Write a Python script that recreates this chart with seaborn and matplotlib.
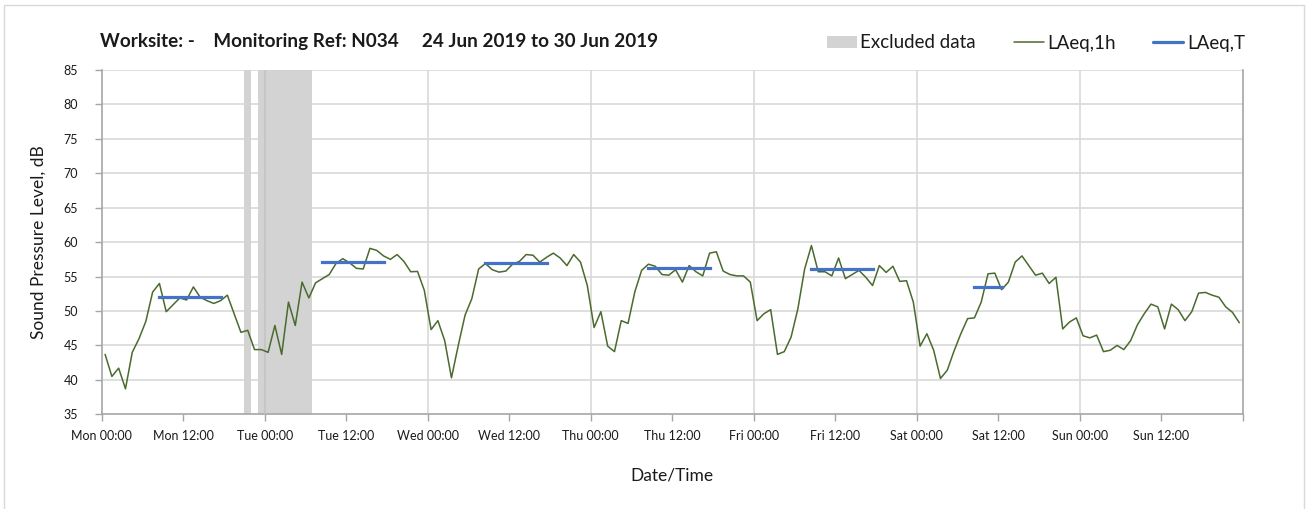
import numpy as np
import pandas as pd
import matplotlib
matplotlib.use("Agg")
import matplotlib.pyplot as plt
from matplotlib.patches import Patch
from matplotlib.lines import Line2D
import seaborn as sns

# ---------------- data ----------------
days = ["Mon", "Tue", "Wed", "Thu", "Fri", "Sat", "Sun"]

laeq_mon = [43.7, 40.5, 41.7, 38.7, 44.0, 46.0, 48.5, 52.75, 54.0, 49.9, 50.9, 51.9,
            51.6, 53.5, 52.0, 51.5, 51.1, 51.5, 52.3, 49.6, 46.9, 47.2, 44.4, 44.4]
laeq_tue = [44.0, 47.9, 43.7, 51.3, 47.9, 54.2, 51.9, 54.1, 54.7, 55.3, 56.9, 57.6,
            57.0, 56.2, 56.1, 59.1, 58.8, 58.0, 57.5, 58.2, 57.2, 55.7, 55.75, 53.0]
laeq_wed = [47.3, 48.6, 45.7, 40.3, 45.0, 49.4, 51.8, 56.1, 56.9, 56.0, 55.65, 55.8,
            56.8, 57.2, 58.2, 58.1, 57.1, 57.8, 58.4, 57.7, 56.6, 58.2, 57.1, 53.7]
laeq_thu = [47.6, 49.9, 44.9, 44.1, 48.6, 48.2, 52.8, 55.9, 56.8, 56.5, 55.3, 55.2,
            56.0, 54.2, 56.6, 55.7, 55.1, 58.4, 58.6, 55.8, 55.3, 55.1, 55.1, 54.2]
laeq_fri = [48.6, 49.6, 50.2, 43.7, 44.1, 46.2, 50.3, 56.1, 59.5, 55.7, 55.7, 55.1,
            57.7, 54.7, 55.3, 55.9, 54.9, 53.7, 56.6, 55.6, 56.5, 54.3, 54.4, 51.3]
laeq_sat = [44.9, 46.7, 44.3, 40.2, 41.4, 44.2, 46.7, 48.9, 49.0, 51.3, 55.4, 55.5,
            53.1, 54.2, 57.1, 58.0, 56.6, 55.2, 55.5, 54.0, 54.9, 47.4, 48.4, 49.0]
laeq_sun = [46.4, 46.1, 46.5, 44.1, 44.3, 45.0, 44.4, 45.7, 48.0, 49.6, 51.0, 50.6,
            47.4, 51.0, 50.2, 48.6, 49.9, 52.6, 52.7, 52.3, 52.0, 50.6, 49.8, 48.3]

# LAeq,T daytime periods: day index, start hour, end hour, level
period_day = [0, 1, 2, 3, 4, 5]
period_start = [8, 8, 8, 8, 8, 8]
period_end = [18, 18, 18, 18, 18, 13]
period_level = [52.0, 57.15, 57.0, 56.2, 56.1, 53.5]

# Excluded data (hours since Mon 00:00)
excluded_start = [21, 23]
excluded_end = [22, 31]

tick_hours = list(range(0, 169, 12))
tick_labels = [f"{d} {t}" for d in days for t in ("00:00", "12:00")] + [""]

title_text = "Worksite: -    Monitoring Ref: N034     24 Jun 2019 to 30 Jun 2019"

# ---------------- build tables ----------------
levels = laeq_mon + laeq_tue + laeq_wed + laeq_thu + laeq_fri + laeq_sat + laeq_sun
hourly = pd.DataFrame({"hour": np.arange(len(levels)) + 0.5, "level": levels})

rows = []
for k, (d, s, e, lv) in enumerate(zip(period_day, period_start, period_end, period_level)):
    rows.append({"period": k, "hour": d * 24 + s + 0.5, "level": lv})
    rows.append({"period": k, "hour": d * 24 + e - 0.5, "level": lv})
periods = pd.DataFrame(rows)

# ---------------- style ----------------
sns.set_theme(style="white")
plt.rcParams["font.family"] = ["Lato", "DejaVu Sans"]

GREEN = "#4a6a2e"
BLUE = "#4472c4"
BAND = "#d3d3d3"
GRID = "#d9d9d9"
AXIS = "#a6a6a6"
TEXT = "#1a1a1a"

fig = plt.figure(figsize=(13.07, 5.09), dpi=100)
ax = fig.add_axes([101.7 / 1307, 1 - 414.3 / 509, (1242.7 - 101.7) / 1307, (414.3 - 70) / 509])

# chart-area border
fig.add_artist(Line2D([4 / 1307, 4 / 1307], [0, 1 - 5 / 509], transform=fig.transFigure, color="#d9d9d9", lw=1))
fig.add_artist(Line2D([4 / 1307, 1304 / 1307], [1 - 5 / 509, 1 - 5 / 509], transform=fig.transFigure, color="#d9d9d9", lw=1))
fig.add_artist(Line2D([1304 / 1307, 1304 / 1307], [0, 1 - 5 / 509], transform=fig.transFigure, color="#d9d9d9", lw=1))

# excluded bands
for s, e in zip(excluded_start, excluded_end):
    ax.axvspan(s, e, color=BAND, lw=0, zorder=2.5)

sns.lineplot(data=hourly, x="hour", y="level", color=GREEN, lw=1.1, ax=ax, zorder=3)
sns.lineplot(data=periods, x="hour", y="level", units="period", estimator=None,
             color=BLUE, lw=2.3, ax=ax, zorder=4, solid_capstyle="projecting")

ax.set_xlim(0, 168)
ax.set_ylim(35, 85)
ax.set_yticks(np.arange(35, 86, 5))
ax.set_xticks(tick_hours)
ax.set_xticklabels(tick_labels)

# grid: horizontal every 5 dB, vertical at day boundaries
for yv in np.arange(40, 86, 5):
    ax.axhline(yv, color=GRID, lw=1.2, zorder=1)
for xv in range(24, 168, 24):
    ax.axvline(xv, color=GRID, lw=1.2, zorder=1)
for xv in range(24, 168, 24):
    if any(s <= xv <= e for s, e in zip(excluded_start, excluded_end)):
        ax.axvline(xv, color="#c4c4c4", lw=1.2, zorder=2.6)

for side in ["left", "bottom", "right"]:
    ax.spines[side].set_visible(True)
    ax.spines[side].set_color(AXIS)
    ax.spines[side].set_linewidth(1.2)
ax.spines["top"].set_visible(False)

ax.tick_params(axis="x", which="major", direction="out", length=5, width=1, color=AXIS,
               labelsize=9, labelcolor=TEXT, pad=6, bottom=True)
ax.tick_params(axis="y", which="major", direction="out", length=5, width=1, color=AXIS,
               labelsize=9, labelcolor=TEXT, pad=12, left=True)

ax.set_xlabel("Date/Time", fontsize=12.5, color=TEXT, labelpad=19)
ax.set_ylabel("Sound Pressure Level, dB", fontsize=12.5, color=TEXT, labelpad=12)

fig.text(100 / 1307, 1 - 41 / 509, title_text, fontsize=13.6, fontweight="bold",
         color=TEXT, ha="left", va="center")

handles = [Patch(facecolor=BAND, edgecolor="none"),
           Line2D([0], [0], color=GREEN, lw=1.1),
           Line2D([0], [0], color=BLUE, lw=2.3)]
fig.legend(handles, ["Excluded data", "LAeq,1h", "LAeq,T"], ncol=3, frameon=False,
           loc="center right", bbox_to_anchor=(1262 / 1307, 1 - 43 / 509),
           fontsize=13.5, handlelength=1.6, handleheight=0.6, handletextpad=0.2,
           columnspacing=2.0, labelcolor=TEXT)

fig.savefig("out.png", dpi=100)
